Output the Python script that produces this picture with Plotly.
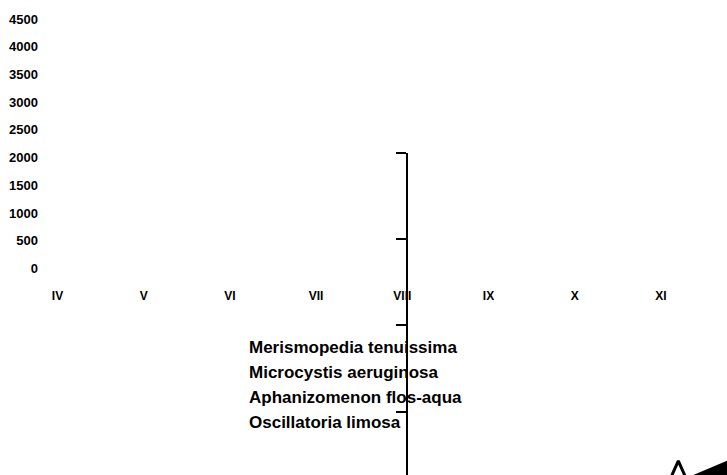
import plotly.graph_objects as go

# ---------------- data ----------------
months = ["IV", "V", "VI", "VII", "VIII", "IX", "X", "XI"]
y_ticks = [0, 500, 1000, 1500, 2000, 2500, 3000, 3500, 4000, 4500]
series_names = [
    "Merismopedia tenuissima",
    "Microcystis aeruginosa",
    "Aphanizomenon flos-aqua",
    "Oscillatoria limosa",
]
# no values are visible in the reference plot area
merismopedia = [None] * 8
microcystis = [None] * 8
aphanizomenon = [None] * 8
oscillatoria = [None] * 8
series_values = [merismopedia, microcystis, aphanizomenon, oscillatoria]

# secondary (right) scale: ticks only
y2_ticks = [0, 1, 2, 3]
# fragments of marks visible in the lower right corner (x in month-index units, y on secondary scale)
caret_x = [7.077, 7.202, 7.327]
caret_y = [-0.851, -0.572, -0.851]
wedge_x = [7.222, 8.149, 8.149, 7.222]
wedge_y = [-0.800, -0.407, -0.909, -0.909]

# ---------------- layout constants (pixels) ----------------
W, H = 727, 475
cat0_px, cat_step = 57.5, 86.2          # x position of first category, spacing
y0_px, y4500_px = 268.5, 19.0           # main y: value 0 and 4500 pixel rows
y2_top_px, y2_step = 152.7, 86.3        # secondary axis: top tick row, spacing
y2_axis_px = 406.7
yaxis_px = 38.0
xaxis_row_px = 287.0
legend_top_px = 329.0

FONT = "Liberation Sans, Arial, sans-serif"

x_idx = list(range(len(months)))
x_range = [(0 - cat0_px) / cat_step, (W - cat0_px) / cat_step]
ppu = (y0_px - y4500_px) / 4500.0
y_range = [-(H - y0_px) / ppu, 4500 + y4500_px / ppu]
y2_range = [3 - (H - y2_top_px) / y2_step, 3.0001]

fig = go.Figure()

for name, vals in zip(series_names, series_values):
    fig.add_trace(go.Scatter(
        x=x_idx, y=vals, name=name, mode="lines",
        line=dict(color="rgba(0,0,0,0)", width=0),
        xaxis="x", yaxis="y", hoverinfo="skip",
    ))

fig.add_trace(go.Scatter(
    x=caret_x, y=caret_y, mode="lines", showlegend=False,
    line=dict(color="black", width=3), xaxis="x", yaxis="y2", hoverinfo="skip",
))
fig.add_trace(go.Scatter(
    x=wedge_x, y=wedge_y, mode="lines", fill="toself", fillcolor="black",
    line=dict(color="black", width=0), showlegend=False,
    xaxis="x", yaxis="y2", hoverinfo="skip",
))

fig.update_layout(
    width=W, height=H,
    margin=dict(l=0, r=0, t=0, b=0, pad=0),
    paper_bgcolor="white", plot_bgcolor="rgba(0,0,0,0)",
    showlegend=True,
    legend=dict(
        x=209 / W, y=1 - legend_top_px / H, xanchor="left", yanchor="top",
        font=dict(family=FONT, size=17, color="black", weight="bold"),
        bgcolor="rgba(0,0,0,0)", borderwidth=0,
    ),
    xaxis=dict(
        type="linear", tickmode="array", tickvals=x_idx, ticktext=months,
        range=x_range, domain=[0, 1], anchor="free", position=1 - xaxis_row_px / H,
        showgrid=False, zeroline=False, showline=False, ticks="",
        tickfont=dict(family=FONT, size=12, color="black", weight="bold"),
        automargin=False, fixedrange=True,
    ),
    yaxis=dict(
        range=y_range, domain=[0, 1], anchor="free", position=yaxis_px / W,
        tickmode="array", tickvals=y_ticks, ticktext=[str(v) for v in y_ticks],
        showgrid=False, zeroline=False, showline=False, ticks="",
        tickfont=dict(family=FONT, size=13, color="black", weight="bold"),
        automargin=False, fixedrange=True,
    ),
    yaxis2=dict(
        range=y2_range, domain=[0, 1 - y2_top_px / H], anchor="free",
        position=y2_axis_px / W, side="left",
        tickmode="array", tickvals=y2_ticks, showticklabels=False,
        ticks="outside", ticklen=10, tickwidth=2, tickcolor="black",
        showline=True, linewidth=2, linecolor="black",
        showgrid=False, zeroline=False, automargin=False, fixedrange=True,
    ),
)

fig.write_html("out.html", include_plotlyjs=True, full_html=True,
               config={"displayModeBar": False},
               post_script="document.body.style.margin='0';")
